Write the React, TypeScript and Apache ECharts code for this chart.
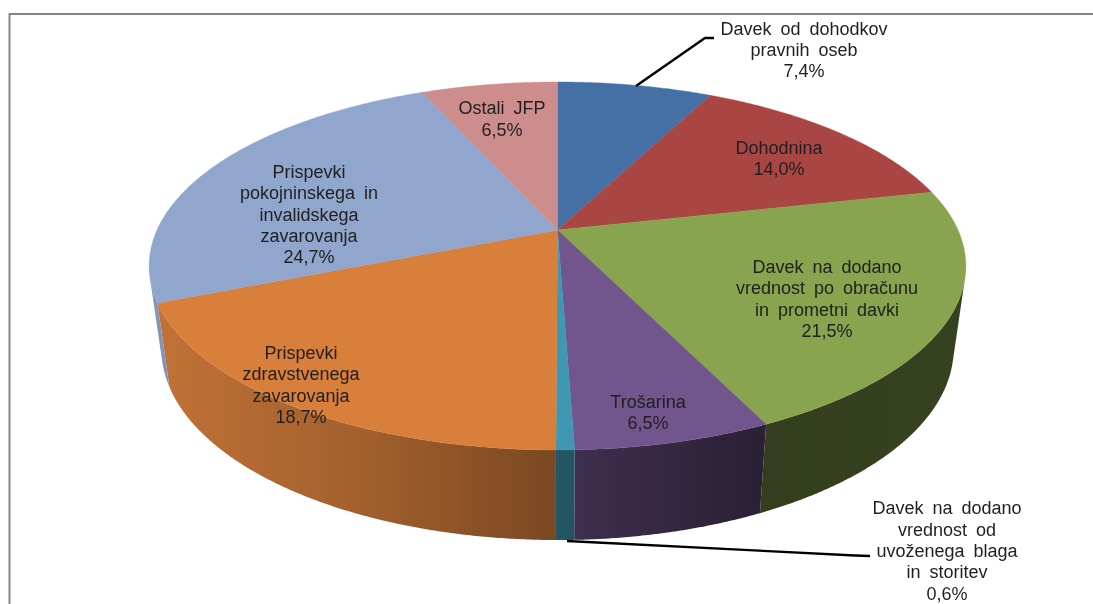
import React, { useEffect, useRef } from "react";
import * as echarts from "echarts";

const categories = [
  "Davek od dohodkov\npravnih oseb",
  "Dohodnina",
  "Davek na dodano\nvrednost po obračunu\nin prometni davki",
  "Trošarina",
  "Davek na dodano\nvrednost od\nuvoženega blaga\nin storitev",
  "Prispevki\nzdravstvenega\nzavarovanja",
  "Prispevki\npokojninskega in\ninvalidskega\nzavarovanja",
  "Ostali JFP",
];
const shares = [7.4, 14.0, 21.5, 6.5, 0.6, 18.7, 24.7, 6.5];
const colors = ["#4470a5", "#a94643", "#88a44e", "#71558c", "#4097b1", "#d87f3c", "#91a6cd", "#cd8d8c"];
const labelCentres = [
  [804, 50], [779, 158.5], [827, 299], [648, 412.5],
  [947, 551], [301, 385], [309, 214.5], [502, 119],
];
const leaderLines = [
  [[636, 86], [705, 38], [714, 38]],
  [[567, 541], [855, 555.5], [870, 556]],
];
// light falloff of the side wall across the page: [x, brightness]
const wallLight = [[150, 0.9], [350, 0.76], [555, 0.57], [760, 0.38], [970, 0.4]];

const CX = 557.5, CY = 230, A = 400.5, B = 177, P = 0.1956;
const total = shares.reduce((s, v) => s + v, 0);

function topPoint(theta: number): [number, number] {
  const X = Math.sin(theta), Y = -Math.cos(theta);
  const d = 1 - P * Y;
  return [CX + (X * A) / d, CY + (Y * B) / d];
}
function basePoint(p: [number, number]): [number, number] {
  return [CX + (p[0] - CX) * 0.97, p[1] + 84 + (p[1] - 300) * 0.04];
}
function range(index: number): [number, number] {
  let a = 0;
  for (let i = 0; i < index; i++) a += shares[i];
  return [(a / total) * Math.PI * 2, ((a + shares[index]) / total) * Math.PI * 2];
}
function arcThetas(t0: number, t1: number): number[] {
  const n = Math.max(2, Math.ceil((t1 - t0) / 0.006));
  const out: number[] = [];
  for (let i = 0; i <= n; i++) out.push(t0 + ((t1 - t0) * i) / n);
  return out;
}
function isFront(t: number): boolean {
  const a = topPoint(t - 0.001), b = topPoint(t + 0.001), p = topPoint(t), q = basePoint(p);
  return (b[0] - a[0]) * (q[1] - p[1]) - (b[1] - a[1]) * (q[0] - p[0]) < 0;
}
function shade(hex: string, m: number): string {
  const n = parseInt(hex.slice(1), 16);
  const c = [(n >> 16) & 255, (n >> 8) & 255, n & 255].map((v) => Math.round(v * m));
  return `rgb(${c[0]},${c[1]},${c[2]})`;
}

const renderWall = (params: any) => {
  const i = params.dataIndex;
  const [t0, t1] = range(i);
  const ts = arcThetas(t0, t1).filter(isFront);
  if (ts.length < 2) return { type: "group", children: [] };
  const top = ts.map(topPoint);
  const base = top.map(basePoint).reverse();
  const x0 = wallLight[0][0], x1 = wallLight[wallLight.length - 1][0];
  const stops = wallLight.map(([x, m]) => ({ offset: (x - x0) / (x1 - x0), color: shade(colors[i], m) }));
  return {
    type: "polygon",
    shape: { points: [...top, ...base] },
    style: { fill: new echarts.graphic.LinearGradient(x0, 0, x1, 0, stops, true) },
  };
};

const renderTop = (params: any) => {
  const i = params.dataIndex;
  const [t0, t1] = range(i);
  return {
    type: "polygon",
    shape: { points: [[CX, CY], ...arcThetas(t0, t1).map(topPoint)] },
    style: { fill: colors[i], stroke: colors[i], lineWidth: 0.4 },
  };
};

const renderLabel = (params: any, api: any) => {
  const i = params.dataIndex;
  const pct = api.value(0).toFixed(1).replace(".", ",") + "%";
  return {
    type: "text",
    style: {
      text: categories[i] + "\n" + pct,
      x: labelCentres[i][0],
      y: labelCentres[i][1],
      align: "center",
      verticalAlign: "middle",
      font: '18px "Liberation Sans"',
      lineHeight: 21.3,
      fill: "#1f1f1f",
    },
  };
};

export default function App() {
  const ref = useRef<HTMLDivElement>(null);
  useEffect(() => {
    const chart = echarts.init(ref.current!, null, { renderer: "svg" });
    chart.setOption({
      animation: false,
      backgroundColor: "#ffffff",
      graphic: [
        { type: "polyline", z: 0, shape: { points: [[9.5, 604], [9.5, 14], [1093, 14]] }, style: { stroke: "#868686", lineWidth: 2, fill: "none" } },
        ...leaderLines.map((points) => ({
          type: "polyline", z: 10, shape: { points }, style: { stroke: "#000000", lineWidth: 2.4, fill: "none" },
        })),
      ],
      series: [
        { type: "custom", coordinateSystem: "none", z: 1, renderItem: renderWall, data: shares, silent: true },
        { type: "custom", coordinateSystem: "none", z: 2, renderItem: renderTop, data: shares, silent: true },
        { type: "custom", coordinateSystem: "none", z: 3, renderItem: renderLabel, data: shares, silent: true },
      ],
    });
    return () => chart.dispose();
  }, []);
  return (
    <div
      ref={ref}
      style={{ position: "fixed", left: 0, top: 0, width: 1093, height: 604, wordSpacing: "4px", filter: "blur(0.5px)" }}
    />
  );
}
